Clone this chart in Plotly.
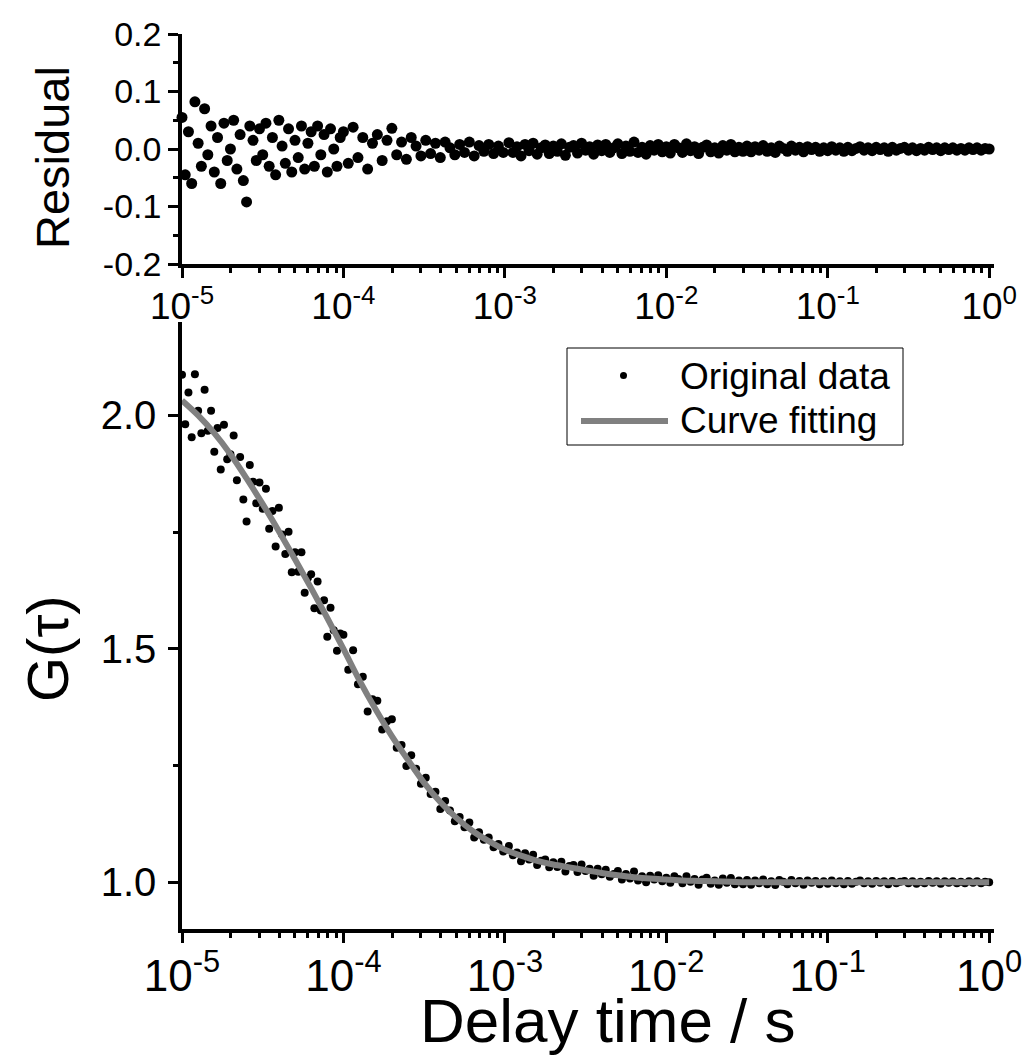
import plotly.graph_objects as go

# log10 of delay time / s for every measured point
tau_exp = [
    -5.00, -4.98, -4.96, -4.94, -4.92, -4.90, -4.88, -4.86, -4.84, -4.82,
    -4.80, -4.78, -4.76, -4.74, -4.72, -4.70, -4.68, -4.66, -4.64, -4.62,
    -4.60, -4.58, -4.56, -4.54, -4.52, -4.50, -4.48, -4.46, -4.44, -4.42,
    -4.40, -4.38, -4.36, -4.34, -4.32, -4.30, -4.28, -4.26, -4.24, -4.22,
    -4.20, -4.18, -4.16, -4.14, -4.12, -4.10, -4.08, -4.06, -4.04, -4.02,
    -4.00, -3.97, -3.94, -3.91, -3.88, -3.85, -3.82, -3.79, -3.76, -3.73,
    -3.70, -3.67, -3.64, -3.61, -3.58, -3.55, -3.52, -3.49, -3.46, -3.43,
    -3.40, -3.37, -3.34, -3.31, -3.28, -3.25, -3.22, -3.19, -3.16, -3.13,
    -3.10, -3.07, -3.04, -3.01,
    -2.975, -2.950, -2.925, -2.900, -2.875, -2.850, -2.825, -2.800, -2.775, -2.750,
    -2.725, -2.700, -2.675, -2.650, -2.625, -2.600, -2.575, -2.550, -2.525, -2.500,
    -2.475, -2.450, -2.425, -2.400, -2.375, -2.350, -2.325, -2.300, -2.275, -2.250,
    -2.225, -2.200, -2.175, -2.150, -2.125, -2.100, -2.075, -2.050, -2.025, -2.000,
    -1.975, -1.950, -1.925, -1.900, -1.875, -1.850, -1.825, -1.800, -1.775, -1.750,
    -1.725, -1.700, -1.675, -1.650, -1.625, -1.600, -1.575, -1.550, -1.525, -1.500,
    -1.475, -1.450, -1.425, -1.400, -1.375, -1.350, -1.325, -1.300, -1.275, -1.250,
    -1.225, -1.200, -1.175, -1.150, -1.125, -1.100, -1.075, -1.050, -1.025, -1.000,
    -0.975, -0.950, -0.925, -0.900, -0.875, -0.850, -0.825, -0.800, -0.775, -0.750,
    -0.725, -0.700, -0.675, -0.650, -0.625, -0.600, -0.575, -0.550, -0.525, -0.500,
    -0.475, -0.450, -0.425, -0.400, -0.375, -0.350, -0.325, -0.300, -0.275, -0.250,
    -0.225, -0.200, -0.175, -0.150, -0.125, -0.100, -0.075, -0.050, -0.025, 0.000,
]

residual = [
    0.055, -0.045, 0.030, -0.060, 0.082, 0.010, -0.030, 0.070, -0.010, 0.040,
    -0.040, 0.020, -0.060, 0.045, -0.020, 0.000, 0.050, -0.035, 0.025, -0.055,
    -0.092, 0.040, 0.015, -0.020, 0.035, -0.010, 0.045, -0.030, 0.020, -0.045,
    0.050, 0.005, -0.025, 0.035, -0.040, 0.015, -0.015, 0.040, -0.035, 0.010,
    0.030, -0.030, 0.040, -0.010, 0.025, -0.040, 0.035, 0.000, -0.030, 0.020,
    0.030, -0.025, 0.038, -0.015, 0.020, -0.035, 0.010, 0.025, -0.020, 0.015,
    0.036, -0.010, 0.012, -0.018, 0.020, 0.005, -0.012, 0.015, -0.008, 0.010,
    -0.015, 0.012, 0.002, -0.010, 0.008, -0.006, 0.012, -0.012, 0.006, -0.004,
    0.008, -0.008, 0.005, -0.006,
    0.011, -0.006, 0.004, -0.012, 0.008, -0.003, 0.010, -0.009, 0.002, 0.007,
    -0.008, 0.005, -0.004, 0.009, -0.011, 0.003, 0.006, -0.007, 0.010, -0.002,
    0.004, -0.009, 0.007, -0.003, 0.008, -0.006, 0.002, 0.009, -0.008, 0.005,
    -0.004, 0.012, -0.006, 0.003, -0.009, 0.006, -0.002, 0.008, -0.005, 0.004,
    -0.007, 0.008, 0.002, -0.006, 0.009, -0.003, 0.004, -0.008, 0.003, 0.007,
    -0.005, 0.002, -0.007, 0.006, -0.002, 0.008, -0.005, 0.003, -0.004, 0.005,
    -0.005, 0.004, -0.002, 0.006, -0.004, 0.002, -0.006, 0.005, 0.001, -0.004,
    0.005, -0.002, 0.003, -0.005, 0.004, -0.001, 0.003, -0.004, 0.002, -0.003,
    0.004, -0.002, 0.002, -0.004, 0.003, -0.003, 0.001, 0.004, -0.002, 0.002,
    -0.003, 0.003, -0.001, 0.002, -0.004, 0.003, -0.002, 0.001, 0.003, -0.002,
    0.002, -0.003, 0.001, -0.002, 0.003, -0.001, 0.002, -0.003, 0.002, -0.001,
    0.002, -0.002, 0.001, -0.002, 0.002, -0.001, 0.002, -0.002, 0.001, 0.000,
]

g_data = [
    2.087, 1.981, 2.049, 1.953, 2.088, 2.010, 1.962, 2.055, 1.967, 2.010,
    1.922, 1.973, 1.884, 1.980, 1.906, 1.917, 1.957, 1.861, 1.911, 1.820,
    1.773, 1.894, 1.858, 1.812, 1.856, 1.800, 1.843, 1.757, 1.795, 1.719,
    1.802, 1.745, 1.703, 1.751, 1.664, 1.707, 1.665, 1.707, 1.620, 1.652,
    1.660, 1.587, 1.644, 1.582, 1.604, 1.526, 1.588, 1.540, 1.496, 1.533,
    1.530, 1.455, 1.497, 1.424, 1.440, 1.366, 1.392, 1.389, 1.327, 1.345,
    1.349, 1.288, 1.294, 1.249, 1.272, 1.243, 1.211, 1.224, 1.189, 1.194,
    1.157, 1.174, 1.154, 1.131, 1.140, 1.118, 1.128, 1.096, 1.107, 1.091,
    1.096, 1.075, 1.082, 1.066,
    1.078, 1.058, 1.064, 1.045, 1.062, 1.049, 1.059, 1.037, 1.046, 1.049,
    1.032, 1.043, 1.033, 1.044, 1.023, 1.035, 1.037, 1.022, 1.038, 1.024,
    1.029, 1.014, 1.029, 1.017, 1.027, 1.012, 1.018, 1.024, 1.006, 1.018,
    1.008, 1.023, 1.004, 1.013, 1.000, 1.014, 1.006, 1.015, 1.002, 1.010,
    0.999, 1.013, 1.007, 0.998, 1.013, 1.001, 1.007, 0.995, 1.006, 1.010,
    0.997, 1.004, 0.995, 1.008, 0.999, 1.009, 0.996, 1.004, 0.996, 1.005,
    0.995, 1.004, 0.998, 1.006, 0.996, 1.002, 0.994, 1.005, 1.001, 0.996,
    1.005, 0.998, 1.003, 0.995, 1.004, 0.999, 1.003, 0.996, 1.002, 0.997,
    1.004, 0.998, 1.002, 0.996, 1.003, 0.997, 1.001, 1.004, 0.998, 1.002,
    0.997, 1.003, 0.999, 1.002, 0.996, 1.003, 0.998, 1.001, 1.003, 0.998,
    1.002, 0.997, 1.001, 0.998, 1.003, 0.999, 1.002, 0.997, 1.002, 0.999,
    1.002, 0.998, 1.001, 0.998, 1.002, 0.999, 1.002, 0.998, 1.001, 1.000,
]

# fitted curve
fit_exp = [
    -5.0, -4.9, -4.8, -4.7, -4.6, -4.5, -4.4, -4.3, -4.2, -4.1,
    -4.0, -3.9, -3.8, -3.7, -3.6, -3.5, -3.4, -3.3, -3.2, -3.1,
    -3.0, -2.9, -2.8, -2.7, -2.6, -2.5, -2.4, -2.3, -2.2, -2.1,
    -2.0, -1.9, -1.8, -1.7, -1.6, -1.5, -1.0, -0.5, 0.0,
]
g_fit = [
    2.032, 2.000, 1.962, 1.917, 1.865, 1.810, 1.752, 1.692, 1.630, 1.566,
    1.500, 1.432, 1.370, 1.313, 1.262, 1.213, 1.172, 1.138, 1.110, 1.088,
    1.070, 1.057, 1.046, 1.038, 1.032, 1.026, 1.020, 1.015, 1.011, 1.008,
    1.006, 1.004, 1.003, 1.002, 1.001, 1.000, 1.000, 1.000, 1.000,
]

x_tick_exp = [-5, -4, -3, -2, -1, 0]
x_tick_text = ["10<sup>-5</sup>", "10<sup>-4</sup>", "10<sup>-3</sup>",
               "10<sup>-2</sup>", "10<sup>-1</sup>", "10<sup>0</sup>"]
res_ticks = [-0.2, -0.1, 0.0, 0.1, 0.2]
res_tick_text = ["-0.2", "-0.1", "0.0", "0.1", "0.2"]
res_minor = [-0.15, -0.05, 0.05, 0.15]
g_ticks = [1.0, 1.5, 2.0]
g_tick_text = ["1.0", "1.5", "2.0"]
g_minor = [1.25, 1.75]

tau = [10 ** e for e in tau_exp]
tau_fit = [10 ** e for e in fit_exp]
x_ticks = [10 ** e for e in x_tick_exp]
x_minor = [m * 10 ** k for k in range(-5, 0) for m in range(2, 10)]

# page has an 8px body margin; keep the figure inside the visible window
OFF = 8
W, H = 1032 - 2 * OFF, 1055 - OFF
FONT = "Liberation Sans, Arial, sans-serif"


def px(x):
    return (x - OFF) / W


def py(y):
    return 1 - (y - OFF) / H


fig = go.Figure()

# residual panel
fig.add_trace(go.Scatter(x=tau, y=residual, mode="markers", xaxis="x", yaxis="y",
                         marker=dict(color="black", size=11), cliponaxis=False,
                         showlegend=False))
# correlation panel
fig.add_trace(go.Scatter(x=tau, y=g_data, mode="markers", xaxis="x2", yaxis="y2",
                         marker=dict(color="black", size=8), cliponaxis=False,
                         name="Original data", showlegend=False))
fig.add_trace(go.Scatter(x=tau_fit, y=g_fit, mode="lines", xaxis="x2", yaxis="y2",
                         line=dict(color="#808080", width=6, shape="spline"),
                         cliponaxis=False, name="Curve fitting", showlegend=False))

axis_base = dict(showline=True, linecolor="black", linewidth=3.5, ticks="outside",
                 tickwidth=3, tickcolor="black", showgrid=False, zeroline=False,
                 mirror=False, automargin=False)

x_common = dict(axis_base, type="log", range=[-5, 0.03], tickmode="array",
                tickvals=x_ticks, ticktext=x_tick_text, ticklen=10,
                domain=[px(182), px(994)],
                minor=dict(tickmode="array", tickvals=x_minor, ticks="outside",
                           ticklen=5, tickwidth=3, tickcolor="black", showgrid=False))

fig.update_layout(
    width=W, height=H,
    margin=dict(l=0, r=0, t=0, b=0, pad=0, autoexpand=False),
    paper_bgcolor="white", plot_bgcolor="white",
    font=dict(family=FONT, color="black"),
    xaxis=dict(x_common, anchor="y", ticklabelstandoff=-3,
               tickfont=dict(size=37, family=FONT)),
    yaxis=dict(axis_base, range=[-0.2, 0.2], tickmode="array", tickvals=res_ticks,
               ticktext=res_tick_text, ticklen=10, anchor="x",
               domain=[py(264), py(34)], tickfont=dict(size=34, family=FONT),
               minor=dict(tickmode="array", tickvals=res_minor, ticks="outside",
                          ticklen=5, tickwidth=3, tickcolor="black", showgrid=False)),
    xaxis2=dict(x_common, anchor="y2", ticklabelstandoff=-5,
                tickfont=dict(size=44, family=FONT)),
    yaxis2=dict(axis_base, range=[0.9, 2.2], tickmode="array", tickvals=g_ticks,
                ticktext=g_tick_text, ticklen=10, anchor="x2", ticklabelstandoff=4,
                domain=[py(929), py(322)], tickfont=dict(size=40, family=FONT),
                minor=dict(tickmode="array", tickvals=g_minor, ticks="outside",
                           ticklen=5, tickwidth=3, tickcolor="black", showgrid=False)),
)

# axis titles
fig.add_annotation(text="Residual", x=px(53), y=py(158), xref="paper", yref="paper",
                   xanchor="center", yanchor="middle", textangle=-90,
                   showarrow=False, font=dict(size=47, family=FONT))
fig.add_annotation(text="G(τ)", x=px(47), y=py(649), xref="paper", yref="paper",
                   xanchor="center", yanchor="middle", textangle=-90,
                   showarrow=False, font=dict(size=58, family=FONT))
fig.add_annotation(text="Delay time / s", x=px(608), y=py(1020), xref="paper",
                   yref="paper", xanchor="center", yanchor="middle",
                   showarrow=False, font=dict(size=62, family=FONT))

# legend box drawn by hand (long line sample like the original)
fig.add_shape(type="rect", xref="paper", yref="paper", x0=px(567), x1=px(903),
              y0=py(445), y1=py(348), line=dict(color="black", width=1),
              fillcolor="white", layer="above")
fig.add_shape(type="circle", xref="paper", yref="paper", x0=px(620), x1=px(627),
              y0=py(379), y1=py(372), fillcolor="black", line=dict(width=0),
              layer="above")
fig.add_shape(type="line", xref="paper", yref="paper", x0=px(581), x1=px(668),
              y0=py(421), y1=py(421), line=dict(color="#808080", width=6),
              layer="above")
fig.add_annotation(text="Original data", x=px(678), y=py(376), xref="paper",
                   yref="paper", xanchor="left", yanchor="middle", showarrow=False,
                   font=dict(size=37, family=FONT))
fig.add_annotation(text="Curve fitting", x=px(678), y=py(420), xref="paper",
                   yref="paper", xanchor="left", yanchor="middle", showarrow=False,
                   font=dict(size=37, family=FONT))

fig.write_html("out.html")
